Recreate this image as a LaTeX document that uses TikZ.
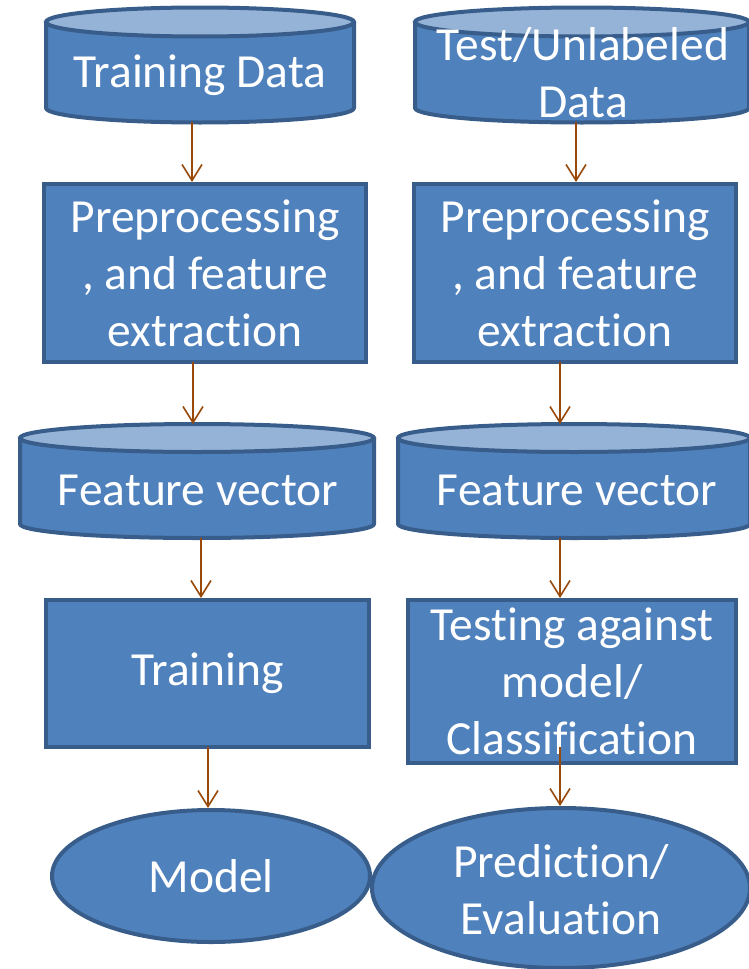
\documentclass[tikz,border=0pt]{standalone}
\usepackage{fontspec}
\setmainfont{Carlito}[RawFeature={-liga;-calt;-clig;-dlig}]
\usetikzlibrary{shapes.geometric,arrows.meta}
\definecolor{fillblue}{HTML}{4F81BD}
\definecolor{edgeblue}{HTML}{385D8A}
\definecolor{topblue}{HTML}{95B3D7}
\definecolor{arr}{HTML}{984807}
\newcommand\mycyl[5]{% cx, rx, y of top ellipse, y of bottom ellipse, ry
  \draw[cylbody] (#1-#2,#3) -- (#1-#2,#4)
    arc[start angle=180,end angle=360,x radius=#2pt,y radius=#5pt]
    -- (#1+#2,#3) -- cycle;
  \draw[cyltop] (#1,#3) ellipse[x radius=#2pt,y radius=#5pt];
}
\newcommand\tiX{t\kern0pt i}
\begin{document}
\begin{tikzpicture}[x=1pt,y=-1pt,
  lbl/.style={text=white,font=\fontsize{47.5}{57}\selectfont,align=center,inner sep=0pt},
  box/.style={lbl,draw=edgeblue,fill=fillblue,line width=4pt,rectangle},
  ell/.style={draw=edgeblue,fill=fillblue,line width=4pt,ellipse,inner sep=0pt},
  cylbody/.style={draw=edgeblue,fill=fillblue,line width=4pt,line join=round},
  cyltop/.style={draw=edgeblue,fill=topblue,line width=4pt},
  flow/.style={draw=arr,line width=1.6pt,-{Straight Barb[length=16pt,width=20pt]}}]

\useasboundingbox (0,0) rectangle (749,969);

% cylinders
\mycyl{200}{154}{22}{108}{14.5}
\mycyl{582}{167}{22}{108}{14.5}
\mycyl{197}{177}{438}{524}{14}
\mycyl{574}{176}{438}{524}{14}

\node[lbl] (td) at (200,75) {Training Data};
\node[lbl] (tu) at (583,73) {Test/Unlabeled\\Data};
\node[lbl] (fv1) at (198,490) {Feature vector};
\node[lbl] (fv2) at (577,490) {Feature vector};

% boxes
\node[box,minimum width=322pt,minimum height=178pt] (pp1) at (205,273) {Preprocessing\\, and feature\\extrac\tiX on};
\node[box,minimum width=322pt,minimum height=178pt] (pp2) at (575,273) {Preprocessing\\, and feature\\extrac\tiX on};
\node[box,minimum width=323pt,minimum height=147pt] (tr) at (207.5,673.5) {Training};
\node[box,minimum width=328pt,minimum height=163pt] (te) at (572,681.5) {Tes\tiX ng against\\model/\\Classifica\tiX on};

% ellipses
\node[ell,minimum width=318pt,minimum height=132pt] (mo) at (211,876) {};
\node[lbl] (motxt) at (mo) {Model};
\node[ell,minimum width=378pt,minimum height=160pt] (pr) at (561,888) {};
\node[lbl] (prtxt) at (561,890) {Predic\tiX on/\\Evalua\tiX on};

% arrow end points
\coordinate (c1) at (192,122);
\coordinate (c2) at (576,122);
\coordinate (c3) at (193,362);
\coordinate (c4) at (560,362);
\coordinate (c5) at (201,538);
\coordinate (c6) at (560,538);
\coordinate (c7) at (208,747);
\coordinate (c8) at (560,747);
\coordinate (d3) at (193,424);
\coordinate (d4) at (560,424);

\draw[flow] (c1) -- (c1 |- pp1.north);
\draw[flow] (c2) -- (c2 |- pp2.north);
\draw[flow] (c3) -- (d3);
\draw[flow] (c4) -- (d4);
\draw[flow] (c5) -- (c5 |- tr.north);
\draw[flow] (c6) -- (c6 |- te.north);
\draw[flow] (c7) -- (c7 |- mo.north);
\draw[flow] (c8) -- (c8 |- pr.north);
\end{tikzpicture}
\end{document}
